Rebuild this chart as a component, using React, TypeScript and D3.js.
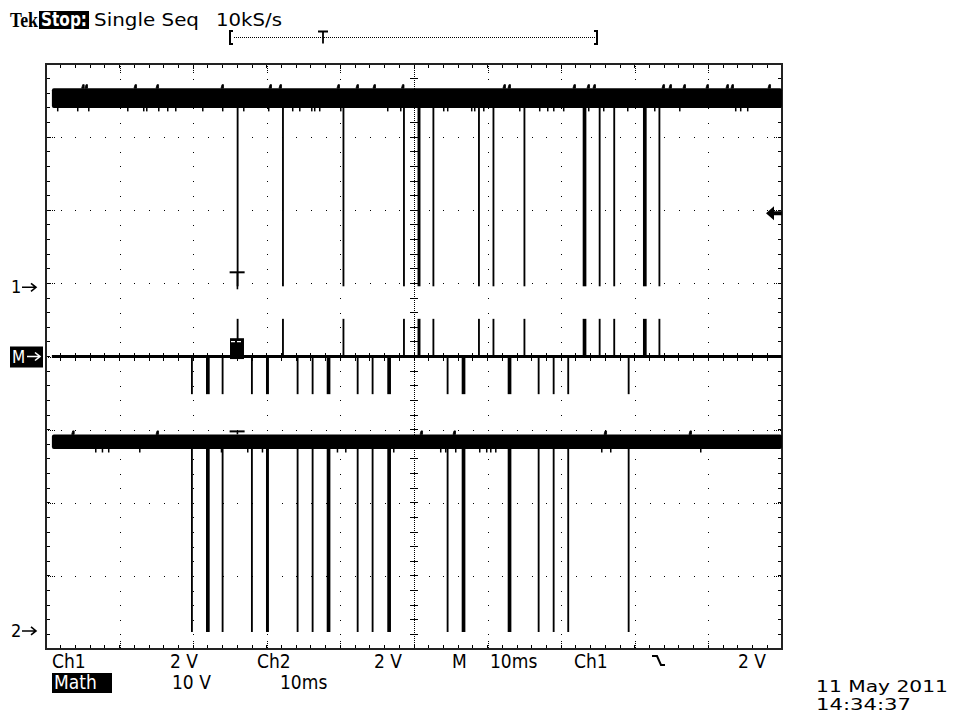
import React from "react";
import * as d3 from "d3";

const W = 956;
const H = 715;

// ---- scope settings ----
const timePerDiv = 10; // ms
const hDivs = 10;
const vDivs = 8;
const ch1VoltsPerDiv = 2;
const ch2VoltsPerDiv = 2;
const mathVoltsPerDiv = 10;
const ch1OffsetDiv = 0.96;
const ch2OffsetDiv = -3.74;
const mathOffsetDiv = 0;
const highLevel = 5.15; // V
const ch1Noise = 0.27;
const ch2Noise = 0.2;
const traceStart = 0.8; // ms
const triggerTime = 25.9; // ms
const triggerLevel = 2.0; // V on Ch1

// ---- Ch1 low-going pulses (ms) and widths (ms) ----
const ch1PulseTimes = [25.91, 32.07, 40.29, 48.51, 50.48, 52.51, 58.7, 60.67, 64.88, 72.92, 75.1, 77.08, 81.11, 83.22];
const ch1PulseDur = [0.25, 0.25, 0.25, 0.25, 0.4, 0.25, 0.25, 0.25, 0.25, 0.5, 0.25, 0.25, 0.5, 0.25];

// ---- Ch2 low-going pulses (ms) ----
const ch2PulseTimes = [19.7, 21.74, 23.87, 27.85, 29.89, 34.06, 36.1, 38.14, 42.22, 44.25, 46.37, 54.44, 56.48, 62.73, 66.81, 68.85, 70.83, 79.04];
const ch2PulseDur = [0.25, 0.5, 0.25, 0.25, 0.4, 0.25, 0.25, 0.5, 0.25, 0.25, 0.5, 0.25, 0.5, 0.5, 0.25, 0.25, 0.25, 0.25];

// ---- small glitches riding on the high level (ms) ----
const ch1GlitchUp = [4.85, 5.3, 11.96, 14.95, 23.78, 30.3, 31.66, 39.54, 42.12, 44.43, 48.3, 62.09, 62.77, 71.6, 73.51, 74.32, 83.7, 84.65, 86.55, 89.67, 92.39, 93.07, 98.1];
const ch1GlitchDown = [1.49, 4.21, 5.71, 11.01, 13.18, 13.59, 15.22, 16.44, 17.53, 21.2, 23.91, 26.77, 30.16, 33.42, 34.38, 36.01, 36.41, 37.09, 39.95, 46.33, 48.1, 53.94, 54.48, 57.74, 58.15, 59.38, 64.27, 66.98, 68.07, 68.89, 70.24, 73.64, 75.68, 78.94, 82.61, 86.01, 93.61, 94.29, 95.24];
const ch2GlitchUp = [3.49, 14.95, 50.82, 55.3, 75.82, 87.36];
const ch2GlitchDown = [6.66, 7.57, 8.42, 12.64, 23.74, 27.31, 29.31, 39.5, 40.63, 47.15, 53.53, 54.21, 55.57, 58.83, 59.78, 60.33, 61.01, 75.41, 76.63, 88.86];

// math burst near trigger (ms, V)
const mathBurstT = [25.0, 26.9];
const mathBurstV = [2.5, -0.35];

// ---- readout texts ----
const headerTexts = ["Tek", "Stop:", "Single Seq", "10kS/s"];
const footerRow1 = ["Ch1", "2 V", "Ch2", "2 V", "M", "10ms", "Ch1", "2 V"];
const footerRow2 = ["Math", "10 V", "10ms"];
const dateTexts = ["11 May 2011", "14:34:37"];

const GX0 = 46, GX1 = 782, GY0 = 64, GY1 = 649;

export default function App() {
  const x = d3.scaleLinear().domain([0, timePerDiv * hDivs]).range([GX0, GX1]);
  const y = d3.scaleLinear().domain([-vDivs / 2, vDivs / 2]).range([GY1, GY0]);
  const y1 = (v: number) => y(ch1OffsetDiv + v / ch1VoltsPerDiv);
  const y2 = (v: number) => y(ch2OffsetDiv + v / ch2VoltsPerDiv);
  const ym = (v: number) => y(mathOffsetDiv + v / mathVoltsPerDiv);

  const stepX = (GX1 - GX0) / hDivs / 5;
  const stepY = (GY1 - GY0) / vDivs / 5;
  const cx = x(50);
  const cy = y(0);

  const dots: React.ReactNode[] = [];
  const dot = (px: number, py: number, key: string) =>
    dots.push(<rect key={key} x={Math.round(px) - 0.5} y={Math.round(py) - 0.5} width={1.4} height={1.4} fill="#000" />);

  for (let i = 1; i < hDivs; i++) {
    if (i === hDivs / 2) continue;
    const gx = GX0 + i * stepX * 5;
    for (let k = 1; k < vDivs * 5; k++) dot(gx, GY0 + k * stepY, `v${i}-${k}`);
    for (let d = 2; d < 9; d += 2) { dot(gx, GY0 + d, `vt${i}-${d}`); dot(gx, GY1 - d, `vb${i}-${d}`); }
  }
  for (let j = 1; j < vDivs; j++) {
    if (j === vDivs / 2) continue;
    const gy = GY0 + j * stepY * 5;
    for (let k = 1; k < hDivs * 5; k++) dot(GX0 + k * stepX, gy, `h${j}-${k}`);
    for (let d = 2; d < 9; d += 2) { dot(GX0 + d, gy, `hl${j}-${d}`); dot(GX1 - d, gy, `hr${j}-${d}`); }
  }
  for (let py = GY0 + 2; py < GY1; py += 2) dot(cx, py, `cv${py}`);
  for (let px = GX0 + 2; px < GX1; px += 2) dot(px, cy, `ch${px}`);

  const ticks: React.ReactNode[] = [];
  for (let k = 1; k < vDivs * 5; k++) {
    const ty = GY0 + k * stepY;
    ticks.push(<line key={`ct${k}`} x1={cx - 4} x2={cx + 4} y1={ty} y2={ty} stroke="#000" strokeWidth={1} />);
    ticks.push(<line key={`lt${k}`} x1={GX0} x2={GX0 + 4} y1={ty} y2={ty} stroke="#000" strokeWidth={1} />);
    ticks.push(<line key={`rt${k}`} x1={GX1 - 4} x2={GX1} y1={ty} y2={ty} stroke="#000" strokeWidth={1} />);
  }
  for (let k = 1; k < hDivs * 5; k++) {
    const tx = GX0 + k * stepX;
    ticks.push(<line key={`cht${k}`} x1={tx} x2={tx} y1={cy - 4} y2={cy + 4} stroke="#000" strokeWidth={1} />);
    ticks.push(<line key={`tt${k}`} x1={tx} x2={tx} y1={GY0} y2={GY0 + 4} stroke="#000" strokeWidth={1} />);
    ticks.push(<line key={`bt${k}`} x1={tx} x2={tx} y1={GY1 - 4} y2={GY1} stroke="#000" strokeWidth={1} />);
  }

  const pw = (d: number) => Math.max(1.6, x(d) - x(0));

  const band = (yf: (v: number) => number, noise: number, key: string) => (
    <rect key={key} x={x(traceStart)} y={yf(highLevel + noise)} width={GX1 - x(traceStart)} height={yf(highLevel - noise) - yf(highLevel + noise)} fill="#000" rx={2} />
  );

  const ch1Top = y1(highLevel + ch1Noise);
  const ch1Bot = y1(highLevel - ch1Noise);
  const ch2Top = y2(highLevel + ch2Noise);
  const ch2Bot = y2(highLevel - ch2Noise);

  const mathPos = ch1PulseTimes.map((t, i) => ({ t, d: ch1PulseDur[i], v: highLevel }));
  const mathNeg = ch2PulseTimes.map((t, i) => ({ t, d: ch2PulseDur[i], v: -highLevel }));

  const font = "'Liberation Sans Narrow', 'DejaVu Sans Condensed', 'Liberation Sans', sans-serif";
  const font2 = "'DejaVu Sans', 'Liberation Sans', sans-serif";
  const trigArrowY = y1(triggerLevel);

  return (
    <svg width={W} height={H} style={{ position: "absolute", left: 0, top: 0, background: "#fff" }}>
      <rect x={0} y={0} width={W} height={H} fill="#fff" />
      <g shapeRendering="crispEdges">
        {dots}
        {ticks}
        <rect x={GX0} y={GY0} width={GX1 - GX0} height={GY1 - GY0} fill="none" stroke="#222" strokeWidth={2} />
      </g>

      {/* Ch1 */}
      {band(y1, ch1Noise, "b1")}
      {ch1PulseTimes.map((t, i) => (
        <rect key={`p1${i}`} x={x(t)} y={ch1Bot - 1} width={pw(ch1PulseDur[i])} height={y1(0) - ch1Bot + 1} fill="#000" />
      ))}
      {ch1GlitchUp.map((t, i) => (
        <path key={`g1u${i}`} d={`M${x(t)},${ch1Top} l1,-3.5 l1.5,0 l0,3.5 z`} fill="#000" stroke="#000" strokeWidth={0.8} />
      ))}
      {ch1GlitchDown.map((t, i) => (
        <rect key={`g1d${i}`} x={x(t)} y={ch1Bot} width={1.5} height={3.5} fill="#000" />
      ))}
      <line x1={x(triggerTime) - 7} x2={x(triggerTime) + 8} y1={y1(0) - 14} y2={y1(0) - 14} stroke="#000" strokeWidth={2} />
      <line x1={x(triggerTime) + 0.8} x2={x(triggerTime) + 0.8} y1={y1(0) - 14} y2={y1(0) + 3} stroke="#000" strokeWidth={1.6} />

      {/* Math */}
      <rect x={x(traceStart)} y={ym(0) - 1.5} width={GX1 - x(traceStart)} height={3} fill="#000" />
      {mathPos.map((p, i) => (
        <rect key={`mp${i}`} x={x(p.t)} y={ym(p.v)} width={pw(p.d)} height={ym(0) - ym(p.v)} fill="#000" />
      ))}
      {mathNeg.map((p, i) => (
        <rect key={`mn${i}`} x={x(p.t)} y={ym(0)} width={pw(p.d)} height={ym(p.v) - ym(0)} fill="#000" />
      ))}
      <rect x={x(mathBurstT[0])} y={ym(mathBurstV[0])} width={x(mathBurstT[1]) - x(mathBurstT[0])} height={ym(mathBurstV[1]) - ym(mathBurstV[0])} fill="#000" />
      <line x1={x(mathBurstT[0]) + 1} x2={x(mathBurstT[1]) - 1} y1={ym(mathBurstV[0]) + 3.5} y2={ym(mathBurstV[0]) + 3.5} stroke="#fff" strokeWidth={1.2} strokeDasharray="4,2" />

      {/* Ch2 */}
      {band(y2, ch2Noise, "b2")}
      {ch2PulseTimes.map((t, i) => (
        <rect key={`p2${i}`} x={x(t)} y={ch2Bot - 1} width={pw(ch2PulseDur[i])} height={y2(0) + 2 - ch2Bot + 1} fill="#000" />
      ))}
      {ch2GlitchUp.map((t, i) => (
        <path key={`g2u${i}`} d={`M${x(t)},${ch2Top} l1,-3.5 l1.5,0 l0,3.5 z`} fill="#000" stroke="#000" strokeWidth={0.8} />
      ))}
      {ch2GlitchDown.map((t, i) => (
        <rect key={`g2d${i}`} x={x(t)} y={ch2Bot} width={1.5} height={3.5} fill="#000" />
      ))}
      <line x1={x(triggerTime) - 7} x2={x(triggerTime) + 8} y1={ch2Top - 3} y2={ch2Top - 3} stroke="#000" strokeWidth={2} />
      <line x1={x(triggerTime) + 0.8} x2={x(triggerTime) + 0.8} y1={ch2Top - 3} y2={ch2Top} stroke="#000" strokeWidth={1.6} />

      {/* trigger level arrow (right) */}
      <path d={`M${GX1 - 16},${trigArrowY} l8,-7 l0,5 l8,0 l0,4 l-8,0 l0,5 z`} fill="#000" />

      {/* left channel markers */}
      <text x={11} y={y1(0) + 7} fontFamily={font} fontSize={18} fill="#000">1</text>
      <path d={`M22,${y1(0) + 1} l14,0 M31,${y1(0) - 3} l5,4 l-5,4`} stroke="#000" strokeWidth={1.6} fill="none" />
      <rect x={10} y={ym(0) - 10} width={33} height={21} fill="#000" />
      <text x={12} y={ym(0) + 6} fontFamily={font} fontSize={17} fill="#fff">M</text>
      <path d={`M27,${ym(0)} l13,0 M35,${ym(0) - 4} l5,4 l-5,4`} stroke="#fff" strokeWidth={1.6} fill="none" />
      <text x={11} y={y2(0) + 7} fontFamily={font} fontSize={18} fill="#000">2</text>
      <path d={`M22,${y2(0) + 1} l14,0 M31,${y2(0) - 3} l5,4 l-5,4`} stroke="#000" strokeWidth={1.6} fill="none" />

      {/* header */}
      <text x={10} y={27} fontFamily="'Liberation Serif', 'DejaVu Serif', serif" fontWeight="bold" fontSize={22} textLength={28} lengthAdjust="spacingAndGlyphs">{headerTexts[0]}</text>
      <rect x={39} y={11} width={50} height={18} fill="#000" />
      <text x={41} y={26} fontFamily={font} fontWeight="bold" fontSize={19} fill="#fff" textLength={46} lengthAdjust="spacingAndGlyphs">{headerTexts[1]}</text>
      <text x={94} y={26} fontFamily={font2} fontSize={18} textLength={105} lengthAdjust="spacingAndGlyphs">{headerTexts[2]}</text>
      <text x={216} y={26} fontFamily={font2} fontSize={18} textLength={66} lengthAdjust="spacingAndGlyphs">{headerTexts[3]}</text>

      {/* record bracket */}
      <g>
        <path d="M233,31 l-3,0 l0,13 l3,0" stroke="#000" strokeWidth={2} fill="none" />
        <line x1={234} x2={595} y1={37.5} y2={37.5} stroke="#000" strokeWidth={1} strokeDasharray="1,1" />
        <path d="M594,31 l3,0 l0,13 l-3,0" stroke="#000" strokeWidth={2} fill="none" />
        <path d="M318,31.5 l10,0 M323,31.5 l0,12" stroke="#000" strokeWidth={1.8} fill="none" />
      </g>

      {/* footer row 1 */}
      <text x={52} y={668} fontFamily={font} fontSize={19}>{footerRow1[0]}</text>
      <text x={170} y={668} fontFamily={font} fontSize={19}>{footerRow1[1]}</text>
      <text x={257} y={668} fontFamily={font} fontSize={19}>{footerRow1[2]}</text>
      <text x={374} y={668} fontFamily={font} fontSize={19}>{footerRow1[3]}</text>
      <text x={452} y={668} fontFamily={font} fontSize={19}>{footerRow1[4]}</text>
      <text x={490} y={668} fontFamily={font} fontSize={19}>{footerRow1[5]}</text>
      <text x={574} y={668} fontFamily={font} fontSize={19}>{footerRow1[6]}</text>
      <path d="M652,656 l5,0 l4,9 l4,0" stroke="#000" strokeWidth={2} fill="none" />
      <text x={738} y={668} fontFamily={font} fontSize={19}>{footerRow1[7]}</text>

      {/* footer row 2 */}
      <rect x={52} y={673} width={60} height={20} fill="#000" />
      <text x={54} y={689} fontFamily={font} fontSize={19} fill="#fff">{footerRow2[0]}</text>
      <text x={172} y={689} fontFamily={font} fontSize={19}>{footerRow2[1]}</text>
      <text x={280} y={689} fontFamily={font} fontSize={19}>{footerRow2[2]}</text>

      {/* date */}
      <text x={816} y={692} fontFamily={font2} fontSize={15} textLength={132} lengthAdjust="spacingAndGlyphs">{dateTexts[0]}</text>
      <text x={816} y={710} fontFamily={font2} fontSize={15} textLength={95} lengthAdjust="spacingAndGlyphs">{dateTexts[1]}</text>
    </svg>
  );
}
